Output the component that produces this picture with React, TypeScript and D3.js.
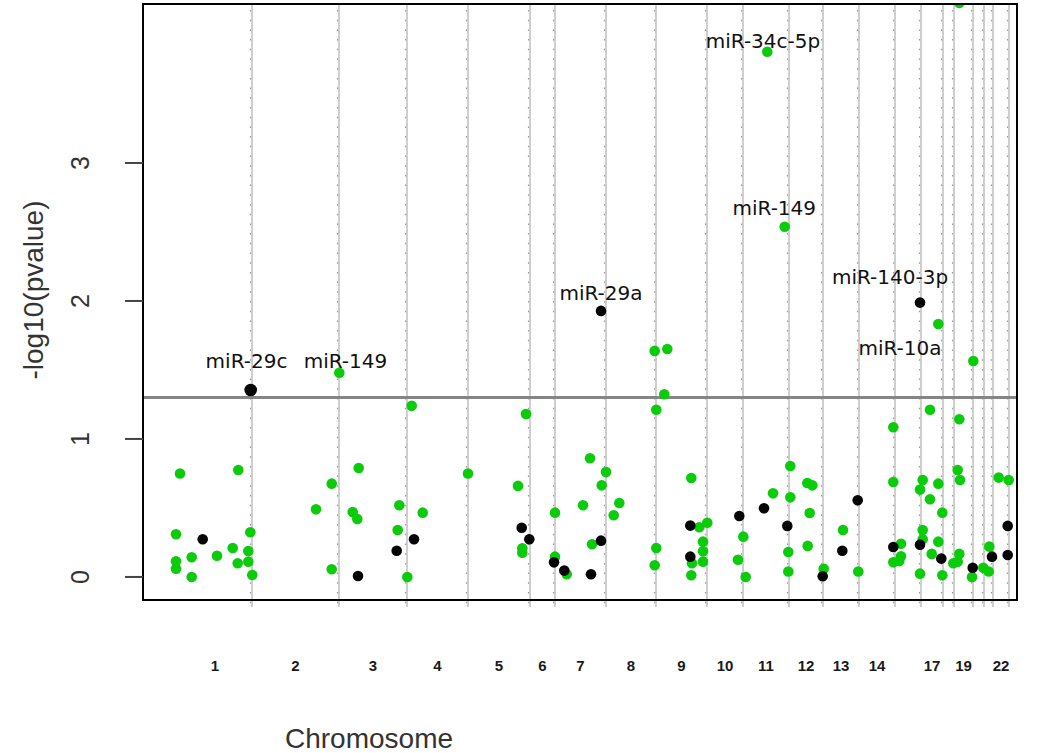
import React from "react";
import * as d3 from "d3";

// chromosome segments (cumulative genome index units)
const chromNames = ["1","2","3","4","5","6","7","8","9","10","11","12","13","14","15","17","18","19","20","21","22"];
const chromStarts = [35,109,196,264,325,387,412,463,513,564,600,646,680,716,752,778,800,811,830,841,850];
const chromEnd = 866;
const shownLabels = ["1","2","3","4","5","6","7","8","9","10","11","12","13","14","17","19","22"];

const yTicks = [0, 1, 2, 3];
const threshold = 1.3;

const greenPos = [33,37,95.3,107.3,89.7,105.3,48.7,74,33,33,94.7,105.3,48.7,109.3,
  173,188.7,188.7,196.3,
  209.7,214.3,215.7,256.3,254.7,264.3,268.7,279.7,
  325,375,379.3,379.3,383,
  412,412,423.7,440,447,449,458.7,463,
  476.3,470.7,513.3,511.7,513.3,511.7,
  524.3,521.3,548.3,556.3,564.3,560,560,549,560,548.3,
  600.3,595,602.7,
  630,624.3,641.7,645.3,645.3,647.3,647.3,
  664.3,669.3,666.7,664.7,680.7,
  700,715.3,
  750.3,750.3,758,758,750.3,756.3,
  787,779.7,777,787,795.3,799.3,779.7,779.7,795.3,788.7,777,799.3,795.3,
  814.7,817,816.3,810.3,814.7,816.3,830.3,816.3,
  829,840.3,846.3,845.7,855.7,865.7];
const greenVal = [0.31,0.75,0.775,0.324,0.21,0.188,0.143,0.154,0.114,0.06,0.099,0.111,0,0.014,
  0.49,0.676,0.056,1.48,
  0.47,0.42,0.79,0.52,0.34,0,1.24,0.466,
  0.75,0.66,0.208,0.176,1.18,
  0.466,0.147,0.02,0.52,0.86,0.237,0.664,0.76,
  0.536,0.447,1.212,1.638,0.21,0.085,
  1.652,1.324,0.717,0.36,0.393,0.256,0.186,0.099,0.111,0.012,
  0.292,0.125,0,
  0.606,3.806,2.538,0.181,0.04,0.804,0.577,
  0.681,0.664,0.464,0.225,0.06,
  0.34,0.04,
  1.085,0.688,0.241,0.15,0.106,0.116,
  1.212,0.703,0.633,0.563,0.676,0.466,0.34,0.273,0.256,0.167,0.024,0.012,1.833,
  0.775,0.703,0.167,0.099,0.111,1.143,1.565,4.16,
  0,0.067,0.22,0.04,0.72,0.703];

const blackPos = [59.7,107.7,215,253.7,271,378.7,386.3,411,421.3,448,458,458,547.3,547.3,596.3,621,644.3,679.7,699.3,714.7,750.3,777,798.3,777,829.7,849,864.7,864.7];
const blackVal = [0.273,1.355,0.007,0.19,0.273,0.357,0.273,0.106,0.046,0.02,0.263,1.928,0.372,0.147,0.442,0.498,0.37,0.005,0.19,0.556,0.217,0.234,0.133,1.988,0.067,0.147,0.37,0.159];
const blackBig = [1]; // index of the highlighted miR-29c point

const annText = ["miR-29c","miR-149","miR-29a","miR-34c-5p","miR-149","miR-140-3p","miR-10a"];
const annPos = [103.5,202.5,458,620,631.3,747,757];
const annVal = [1.514,1.514,2.007,3.833,2.623,2.123,1.609];

const W = 1050, H = 753;
const L = 143, R = 1017, T = 4, B = 600;

export default function App() {
  const x = d3.scaleLinear().domain([0, 874]).range([L, R]);
  const y = d3.scaleLinear().domain([-0.167, 4.152]).range([B, T]);
  const boundaries = [...chromStarts.slice(1), chromEnd];
  const centers = chromNames.map((n, i) => {
    const s = chromStarts[i];
    const e = i + 1 < chromStarts.length ? chromStarts[i + 1] : chromEnd;
    return { n, c: (s + e) / 2 };
  }).filter(d => shownLabels.includes(d.n));

  return (
    <svg width={W} height={H} style={{ position: "absolute", left: 0, top: 0, background: "#fff" }}>
      <defs>
        <clipPath id="plotclip"><rect x={L} y={T} width={R - L} height={B - T} /></clipPath>
      </defs>
      {/* chromosome boundary lines */}
      {boundaries.map((b, i) => (
        <g key={"b" + i}>
          <line x1={x(b)} x2={x(b)} y1={T} y2={B + 7} stroke="#cfcfcf" strokeWidth={2} />
          <line x1={x(b) - 1.5} x2={x(b) - 1.5} y1={T + 6} y2={B + 7} stroke="#9a9a9a" strokeWidth={1.2} strokeDasharray="1.5 8.2" />
        </g>
      ))}
      {/* threshold */}
      <line x1={L} x2={R} y1={y(threshold)} y2={y(threshold)} stroke="#858585" strokeWidth={3} />
      {/* points */}
      <g clipPath="url(#plotclip)">
        {greenPos.map((p, i) => (
          <circle key={"g" + i} cx={x(p)} cy={y(greenVal[i])} r={5.3} fill="#0acc0a" />
        ))}
        {blackPos.map((p, i) => (
          <circle key={"k" + i} cx={x(p)} cy={y(blackVal[i])} r={blackBig.includes(i) ? 6.3 : 5.3} fill="#050505" />
        ))}
      </g>
      {/* annotations */}
      {annText.map((t, i) => (
        <text key={"a" + i} x={x(annPos[i])} y={y(annVal[i])} textAnchor="middle"
          fontFamily="DejaVu Sans, Verdana, sans-serif" fontSize={20} fill="#111">{t}</text>
      ))}
      {/* box */}
      <rect x={L} y={T} width={R - L} height={B - T} fill="none" stroke="#000" strokeWidth={2} />
      {/* y axis */}
      {yTicks.map(t => (
        <g key={"yt" + t}>
          <line x1={125} x2={L} y1={y(t)} y2={y(t)} stroke="#444" strokeWidth={2} />
          <text transform={`translate(${89},${y(t)}) rotate(-90)`} textAnchor="middle"
            fontFamily="Liberation Sans, Arial, sans-serif" fontSize={25} fill="#333">{t}</text>
        </g>
      ))}
      {/* x labels */}
      {centers.map(d => (
        <text key={"xl" + d.n} x={x(d.c)} y={671} textAnchor="middle"
          fontFamily="Liberation Sans Narrow, Liberation Sans, Arial, sans-serif" fontSize={15} fontWeight="bold" fill="#1a1a1a">{d.n}</text>
      ))}
      {/* titles */}
      <text transform={`translate(${43},${290}) rotate(-90)`} textAnchor="middle"
        fontFamily="Liberation Sans, Arial, sans-serif" fontSize={28} fill="#333">-log10(pvalue)</text>
      <text x={369} y={748} textAnchor="middle"
        fontFamily="Liberation Sans, Arial, sans-serif" fontSize={28} fill="#333">Chromosome</text>
    </svg>
  );
}
